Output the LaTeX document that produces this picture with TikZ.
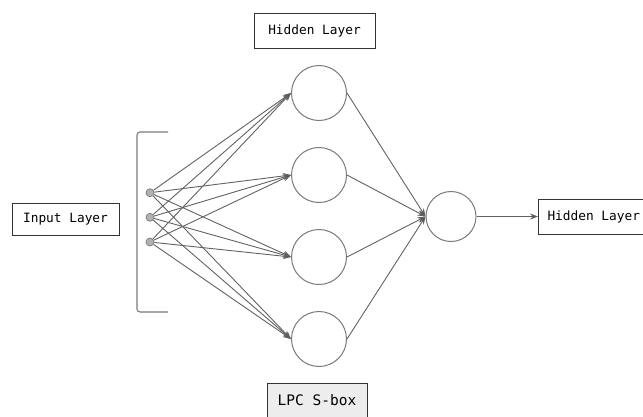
\documentclass[tikz,border=0pt]{standalone}
\usepackage{fontspec}
\setmainfont{Open Sans}
\newfontfamily\monofont{DejaVu Sans Mono}
\usetikzlibrary{arrows.meta}
\definecolor{edgegray}{HTML}{626262}
\definecolor{circgray}{HTML}{7A7A7A}
\definecolor{tipgray}{HTML}{444444}
\tikzset{
  labelbox/.style={draw=black!80, line width=1pt, fill=white, inner sep=0pt, minimum width=121pt, minimum height=35pt, font=\monofont\fontsize{12.8}{15}\selectfont},
  neuron/.style={circle, draw=circgray, line width=1pt, fill=white, minimum size=55pt, inner sep=0pt},
  outneuron/.style={circle, draw=circgray, line width=1pt, fill=white, minimum size=50pt, inner sep=0pt},
  innode/.style={circle, draw=circgray, fill=black!30, line width=0.7pt, minimum size=8pt, inner sep=0pt},
  conn/.style={draw=edgegray, line width=0.9pt, -{Stealth[length=8pt,width=6pt,fill=tipgray]}},
  bracketline/.style={draw=circgray, line width=1.1pt, rounded corners=3pt}
}
\begin{document}
\begin{tikzpicture}[x=1pt,y=-1pt]
\useasboundingbox (0,0) rectangle (643,416);
% label boxes
\node[labelbox] (top) at (314.5,30.5) {Hidden Layer};
\node[labelbox, minimum width=107pt, minimum height=32pt] (inp) at (65.5,219) {Input Layer};
\node[labelbox, anchor=west, minimum width=0pt, inner xsep=9pt] (outbox) at (538,216.5) {Hidden Layer};
\node[labelbox, fill=black!7, minimum width=100pt, font=\monofont\fontsize{14.5}{17}\selectfont] (lpc) at (317,400.5) {LPC S-box};
% bracket
\draw[bracketline] (168,132) -- (137,132) -- (137,312) -- (168,312);
% input nodes
\node[innode] (i1) at (150,192.7) {};
\node[innode] (i2) at (150,217.3) {};
\node[innode] (i3) at (150,242) {};
% hidden neurons
\node[neuron] (h1) at (319,93) {};
\node[neuron] (h2) at (319,175) {};
\node[neuron] (h3) at (319,257) {};
\node[neuron] (h4) at (319,339) {};
% output neuron
\node[outneuron] (o) at (451,216.5) {};
% connections
\foreach \i in {1,2,3}{
  \foreach \h in {1,2,3,4}{
    \draw[conn] (i\i) -- (h\h.west);
  }
}
\foreach \h in {1,2,3,4}{
  \draw[conn] (h\h.east) -- (o.west);
}
\draw[conn] (o.east) -- (outbox.west);
\end{tikzpicture}
\end{document}
